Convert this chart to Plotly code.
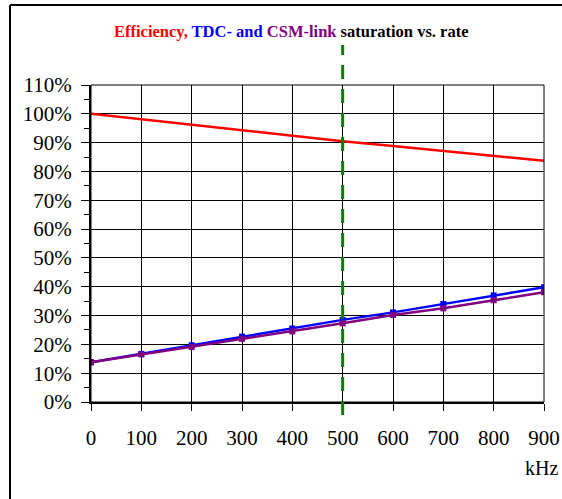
import plotly.graph_objects as go

rate_khz = [0, 100, 200, 300, 400, 500, 600, 700, 800, 900]
efficiency = [100.0, 98.1, 96.3, 94.3, 92.3, 90.5, 88.8, 87.1, 85.4, 83.7]
tdc_saturation = [13.8, 16.7, 19.7, 22.7, 25.5, 28.5, 31.1, 34.0, 37.0, 39.8]
csm_saturation = [13.8, 16.5, 19.1, 21.9, 24.5, 27.3, 30.2, 32.5, 35.3, 38.1]
y_ticks = [0, 10, 20, 30, 40, 50, 60, 70, 80, 90, 100, 110]
y_labels = [f'{v}%' for v in y_ticks]
marker_rate = 500

serif = 'Liberation Serif, Times New Roman, serif'

fig = go.Figure()

fig.add_trace(go.Scatter(
    x=rate_khz, y=efficiency, mode='lines', name='Efficiency',
    line=dict(color='#ff0000', width=2.5)
))
fig.add_trace(go.Scatter(
    x=rate_khz, y=tdc_saturation, mode='lines+markers', name='TDC',
    line=dict(color='#0000ff', width=2.5),
    marker=dict(symbol='square', size=6, color='#0000ff')
))
fig.add_trace(go.Scatter(
    x=rate_khz, y=csm_saturation, mode='lines+markers', name='CSM-link',
    line=dict(color='#800080', width=2.5),
    marker=dict(symbol='square', size=6, color='#800080')
))

title = ("<b><span style='color:#ff0000'>Efficiency,</span> "
         "<span style='color:#0000ff'>TDC- and</span> "
         "<span style='color:#800080'>CSM-link</span> saturation vs. rate</b>")

fig.update_layout(
    width=562, height=499,
    margin=dict(l=91, r=18, t=85, b=97, pad=0),
    paper_bgcolor='white', plot_bgcolor='white',
    showlegend=False,
    font=dict(family=serif, color='black', size=21),
    xaxis=dict(
        range=[0, 900], tickvals=rate_khz, ticks='outside', ticklen=7,
        tickcolor='black', showgrid=True, gridcolor='black', gridwidth=1,
        showline=True, linecolor='black', linewidth=2, zeroline=False,
        ticklabelstandoff=9, automargin=False, fixedrange=True,
    ),
    yaxis=dict(
        range=[0, 110], tickvals=y_ticks, ticktext=y_labels, ticks='outside',
        ticklen=8, tickcolor='black', showgrid=True, gridcolor='black',
        gridwidth=1, showline=True, linecolor='black', linewidth=2,
        zeroline=False, ticklabelstandoff=5, automargin=False, fixedrange=True,
        minor=dict(dtick=5, ticks='outside', ticklen=5, tickcolor='black',
                   showgrid=False),
    ),
    annotations=[
        dict(text=title, x=0.4404, y=1.170, xref='paper', yref='paper',
             xanchor='center', yanchor='middle', showarrow=False,
             font=dict(family=serif, size=16.5, color='black')),
        dict(text='kHz', x=0.9934, y=-0.208, xref='paper', yref='paper',
             xanchor='center', yanchor='middle', showarrow=False,
             font=dict(family=serif, size=20, color='black')),
    ],
    shapes=[
        # plot frame
        dict(type='rect', xref='paper', yref='paper', x0=0, x1=1, y0=0, y1=1,
             line=dict(color='black', width=1)),
        # outer chart frame (top and left edges)
        dict(type='line', xref='paper', yref='paper', x0=-0.1788, x1=1.05,
             y0=1.2524, y1=1.2524, line=dict(color='black', width=2)),
        dict(type='line', xref='paper', yref='paper', x0=-0.1788, x1=-0.1788,
             y0=1.2524, y1=-0.32, line=dict(color='black', width=2)),
        # rate marker
        dict(type='line', xref='x', yref='paper', x0=marker_rate, x1=marker_rate,
             y0=-0.041, y1=1.126,
             line=dict(color='#008000', width=3, dash='14px,10px')),
    ],
)

fig.write_html("out.html", config={'displayModeBar': False},
               post_script="document.body.style.margin = '0';")
